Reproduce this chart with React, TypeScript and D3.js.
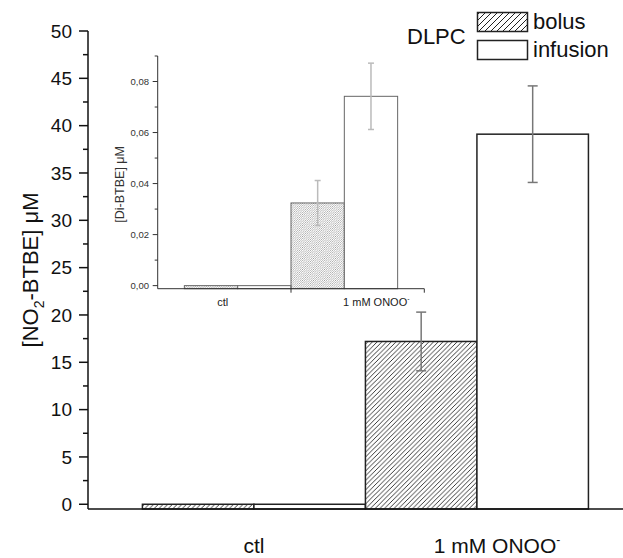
import React from "react";
import * as d3 from "d3";

// ---- data ----
const categories = ["ctl", "1 mM ONOO"];
const seriesNames = ["bolus", "infusion"];
const mainBolus = [0.0, 17.2];
const mainBolusErr = [0, 3.1];
const mainInfusion = [0.0, 39.1];
const mainInfusionErr = [0, 5.1];
const insetBolus = [0.0, 0.0324];
const insetBolusErr = [0, 0.0088];
const insetInfusion = [0.0, 0.0742];
const insetInfusionErr = [0, 0.013];
const mainYTicks = [0, 5, 10, 15, 20, 25, 30, 35, 40, 45, 50];
const insetYTicks = [0, 0.02, 0.04, 0.06, 0.08];
const legendTitle = "DLPC";

const W = 623;
const H = 558;
const FONT = "'Liberation Sans', Arial, Helvetica, sans-serif";

export default function App() {
  // main scales
  const yM = d3.scaleLinear().domain([-0.5, 50]).range([509, 31]);
  const xM = d3.scaleLinear().domain([0.256, 2.655]).range([88, 623]);
  // inset scales
  const yI = d3.scaleLinear().domain([-0.0012, 0.09]).range([288.7, 56]);
  const xI = d3.scaleLinear().domain([0.25, 2.75]).range([157.7, 424.3]);

  const mainMinor = d3.range(0, 50.01, 2.5).filter((v) => v % 5 !== 0);
  const insetMinor = d3.range(0.01, 0.0901, 0.02);
  const mainLabelPos = [1.0, 2.09];
  const insetLabelPos = [0.86, 2.3];

  const bw = 0.5;
  const mainBars = categories.flatMap((c, i) => [
    { x0: i + 1 - bw, v: mainBolus[i], e: mainBolusErr[i], s: 0 },
    { x0: i + 1, v: mainInfusion[i], e: mainInfusionErr[i], s: 1 },
  ]);
  const insetBars = categories.flatMap((c, i) => [
    { x0: i + 1 - bw, v: insetBolus[i], e: insetBolusErr[i], s: 0 },
    { x0: i + 1, v: insetInfusion[i], e: insetInfusionErr[i], s: 1 },
  ]);

  const yMinM = yM.domain()[0];
  const yMinI = yI.domain()[0];

  return (
    <svg
      width={W}
      height={H}
      style={{ position: "absolute", left: 0, top: 0, background: "#fff" }}
      fontFamily={FONT}
    >
      <defs>
        <pattern id="hatchMain" patternUnits="userSpaceOnUse" width="4.7" height="4.7">
          <path d="M0,4.7 L4.7,0 M-1,1 L1,-1 M3.7,5.7 L5.7,3.7" stroke="#222" strokeWidth="0.9" />
        </pattern>
        <pattern id="hatchLegend" patternUnits="userSpaceOnUse" width="6" height="6">
          <path d="M0,6 L6,0 M-1,1 L1,-1 M5,7 L7,5" stroke="#222" strokeWidth="1" />
        </pattern>
        <pattern id="hatchInset" patternUnits="userSpaceOnUse" width="2.2" height="2.2">
          <path d="M0,2.2 L2.2,0 M-1,1 L1,-1 M1.2,3.2 L3.2,1.2" stroke="#888" strokeWidth="0.6" />
        </pattern>
      </defs>
      <rect x={0} y={0} width={W} height={H} fill="#fff" />

      {/* ---- main bars ---- */}
      {mainBars.map((b, i) => (
        <rect
          key={"mb" + i}
          x={xM(b.x0)}
          y={yM(b.v)}
          width={xM(b.x0 + bw) - xM(b.x0)}
          height={yM(yMinM) - yM(b.v)}
          fill={b.s === 0 ? "url(#hatchMain)" : "#fff"}
          stroke="#222"
          strokeWidth={1.5}
        />
      ))}
      {mainBars
        .filter((b) => b.e > 0)
        .map((b, i) => {
          const cx = xM(b.x0 + bw / 2);
          return (
            <g key={"me" + i} stroke="#777" strokeWidth={1.5}>
              <line x1={cx} x2={cx} y1={yM(b.v + b.e)} y2={yM(b.v - b.e)} />
              <line x1={cx - 5} x2={cx + 5} y1={yM(b.v + b.e)} y2={yM(b.v + b.e)} />
              <line x1={cx - 5} x2={cx + 5} y1={yM(b.v - b.e)} y2={yM(b.v - b.e)} />
            </g>
          );
        })}

      {/* ---- main axes ---- */}
      <g stroke="#111" strokeWidth={1.5}>
        <line x1={xM.range()[0]} x2={xM.range()[0]} y1={yM(50)} y2={yM(yMinM)} />
        <line x1={xM.range()[0]} x2={xM.range()[1]} y1={yM(yMinM)} y2={yM(yMinM)} />
        {mainYTicks.map((t) => (
          <line key={"mt" + t} x1={xM.range()[0] - 9} x2={xM.range()[0]} y1={yM(t)} y2={yM(t)} />
        ))}
        {mainMinor.map((t) => (
          <line key={"mm" + t} x1={xM.range()[0] - 5} x2={xM.range()[0]} y1={yM(t)} y2={yM(t)} />
        ))}
      </g>
      {mainYTicks.map((t) => (
        <text
          key={"ml" + t}
          x={72}
          y={yM(t)}
          dy="0.35em"
          textAnchor="end"
          fontSize={19}
          fill="#111"
        >
          {t}
        </text>
      ))}
      {categories.map((c, i) => (
        <text
          key={"mc" + i}
          x={xM(mainLabelPos[i])}
          y={553}
          textAnchor="middle"
          fontSize={21}
          fill="#111"
        >
          {c}
          {i === 1 ? (
            <tspan dy={-9} fontSize={12}>
              -
            </tspan>
          ) : null}
        </text>
      ))}
      <text
        transform={`translate(38,${(yM(50) + yM(yMinM)) / 2}) rotate(-90)`}
        textAnchor="middle"
        fontSize={22}
        fill="#111"
      >
        [NO
        <tspan dy={6} fontSize={14}>
          2
        </tspan>
        <tspan dy={-6}>-BTBE] μM</tspan>
      </text>

      {/* ---- legend ---- */}
      <text x={407} y={44} fontSize={22} fill="#111">
        {legendTitle}
      </text>
      {seriesNames.map((s, i) => (
        <g key={"lg" + i}>
          <rect
            x={477.5}
            y={12.5 + i * 28}
            width={50}
            height={19}
            fill={i === 0 ? "url(#hatchLegend)" : "#fff"}
            stroke="#222"
            strokeWidth={1.5}
          />
          <text x={533} y={29 + i * 28} fontSize={22} fill="#111">
            {s}
          </text>
        </g>
      ))}

      {/* ---- inset ---- */}
      {insetBars.map((b, i) => (
        <rect
          key={"ib" + i}
          x={xI(b.x0)}
          y={yI(b.v)}
          width={xI(b.x0 + bw) - xI(b.x0)}
          height={yI(yMinI) - yI(b.v)}
          fill={b.s === 0 ? "url(#hatchInset)" : "#fff"}
          stroke="#666"
          strokeWidth={1}
        />
      ))}
      {insetBars
        .filter((b) => b.e > 0)
        .map((b, i) => {
          const cx = xI(b.x0 + bw / 2);
          return (
            <g key={"ie" + i} stroke="#bbb" strokeWidth={1.5}>
              <line x1={cx} x2={cx} y1={yI(b.v + b.e)} y2={yI(b.v - b.e)} />
              <line x1={cx - 3} x2={cx + 3} y1={yI(b.v + b.e)} y2={yI(b.v + b.e)} />
              <line x1={cx - 3} x2={cx + 3} y1={yI(b.v - b.e)} y2={yI(b.v - b.e)} />
            </g>
          );
        })}
      <g stroke="#333" strokeWidth={1}>
        <line x1={xI.range()[0]} x2={xI.range()[0]} y1={yI(0.09)} y2={yI(yMinI)} />
        <line x1={xI.range()[0]} x2={xI.range()[1]} y1={yI(yMinI)} y2={yI(yMinI)} />
        {insetYTicks.map((t) => (
          <line key={"it" + t} x1={xI.range()[0] - 5} x2={xI.range()[0]} y1={yI(t)} y2={yI(t)} />
        ))}
        {insetMinor.map((t) => (
          <line key={"im" + t} x1={xI.range()[0] - 3} x2={xI.range()[0]} y1={yI(t)} y2={yI(t)} />
        ))}
        <line x1={xI(1.5)} x2={xI(1.5)} y1={yI(yMinI)} y2={yI(yMinI) + 4} />
        <line x1={xI(2.75)} x2={xI(2.75)} y1={yI(yMinI)} y2={yI(yMinI) + 4} />
      </g>
      {insetYTicks.map((t) => (
        <text
          key={"il" + t}
          x={149}
          y={yI(t)}
          dy="0.35em"
          textAnchor="end"
          fontSize={9.5}
          fill="#333"
        >
          {d3.format(".2f")(t).replace(".", ",")}
        </text>
      ))}
      {categories.map((c, i) => (
        <text
          key={"ic" + i}
          x={xI(insetLabelPos[i])}
          y={306}
          textAnchor="middle"
          fontSize={11}
          fill="#222"
        >
          {c}
          {i === 1 ? (
            <tspan dy={-5} fontSize={7}>
              -
            </tspan>
          ) : null}
        </text>
      ))}
      <text
        transform={`translate(124,${(yI(0.09) + yI(yMinI)) / 2 + 12}) rotate(-90)`}
        textAnchor="middle"
        fontSize={12.5}
        fill="#333"
      >
        [Di-BTBE] μM
      </text>
    </svg>
  );
}
